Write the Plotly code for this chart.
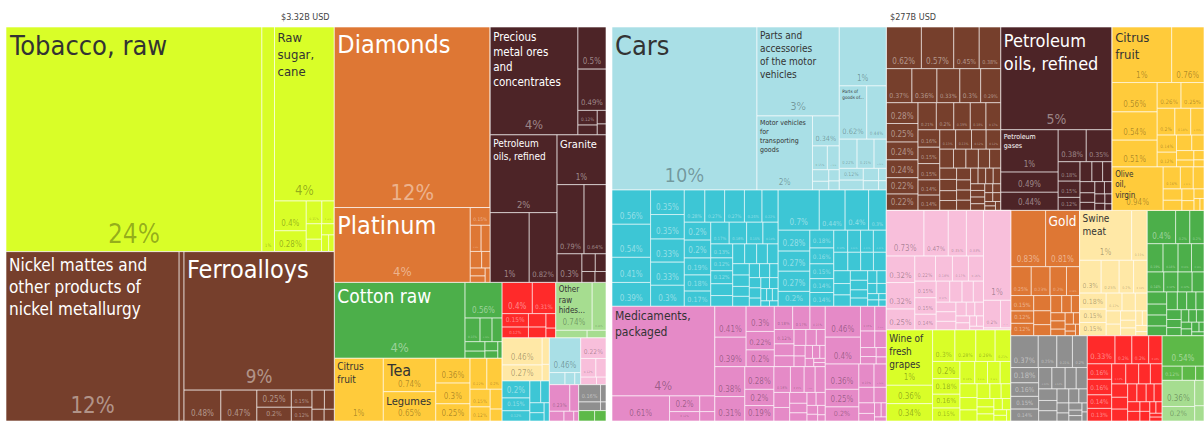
import math
import plotly.graph_objects as go

TITLE_ZW = "$3.32B USD"
TITLE_ES = "$277B USD"

# ---------------- Left treemap (export shares, %) ----------------
# entry = share (unlabelled product) | (label, share) | [entries] (one HS2 group)
ZW_FOODSTUFFS = [[("Tobacco, raw", 24.3), 1.2], ("Raw<br>sugar,<br>cane", 4.4),
                 0.4, 0.28, 0.15, 0.12, 0.1, 0.08, 0.06, 0.05, 0.04]
ZW_METALS = [[("Nickel mattes and<br>other products of<br>nickel metallurgy", 12.4), 0.35],
             [("Ferroalloys", 8.8), 0.48, 0.47, 0.25, 0.2, 0.15, 0.12, 0.1, 0.08, 0.06, 0.05]]
ZW_PRECIOUS = [("Diamonds", 11.9),
               [("Platinum", 4.3), 0.15, 0.12, 0.1, 0.08, 0.06, 0.05, 0.04, 0.03]]
ZW_MINERAL = [[("Precious<br>metal ores<br>and<br>concentrates", 4.0), 0.5, 0.49, 0.12, 0.08, 0.05, 0.04],
              [("Petroleum<br>oils, refined", 2.2), 1.15, 0.82],
              [("Granite", 1.03), 0.79, 0.64, 0.3, 0.1, 0.08, 0.06, 0.05]]
ZW_TEXTILES = [("Cotton raw", 4.2), 0.56, 0.15, 0.12, 0.1, 0.08, 0.06, 0.05, 0.04, 0.03]
ZW_VEGETABLE = [("Citrus<br>fruit", 1.3), ("Tea", 0.74), ("Legumes", 0.65), 0.36, 0.3, 0.25,
                0.22, 0.2, 0.15, 0.12, 0.1, 0.06]
ZW_MISC = [0.4, 0.31, 0.15, 0.12, 0.1, 0.08, 0.06, 0.04]
ZW_HIDES = [("Other<br>raw<br>hides...", 0.74), 0.28, 0.1, 0.06]
ZW_ANIMAL = [0.46, 0.27, 0.08, 0.05]
ZW_MACHINES = [0.2, 0.15, 0.12, 0.1, 0.08, 0.06, 0.05, 0.04]
ZW_TRANSPORT = [0.46, 0.08, 0.05, 0.03]
ZW_PLASTICS = [0.22, 0.12, 0.08, 0.05, 0.03]
ZW_CHEMICALS = [0.23, 0.1, 0.06, 0.04, 0.02]
ZW_INSTRUMENTS = [0.16, 0.08, 0.04, 0.02]
ZW_PAPER = [0.07, 0.05]

# ---------------- Right treemap (export shares, %) ----------------
ES_TRANSPORT = [[("Cars", 10.0), ("Parts and<br>accessories<br>of the motor<br>vehicles", 3.1),
                 ("Motor vehicles<br>for<br>transporting<br>goods", 1.74), 0.34, 0.15, 0.12, 0.08, 0.06, 0.05, 0.04],
                [1.17, ("Parts of<br>goods of...", 0.62), 0.44, 0.22, 0.21, 0.15, 0.12, 0.1, 0.08, 0.06, 0.04, 0.03]]
ES_MACHINES = [[0.56, 0.54, 0.41, 0.39, 0.35, 0.35, 0.33, 0.33, 0.3, 0.28, 0.27, 0.27, 0.24, 0.22, 0.2,
                0.2, 0.19, 0.18, 0.17, 0.17, 0.16, 0.15, 0.14, 0.13, 0.12, 0.12, 0.11, 0.1, 0.1, 0.1,
                0.09, 0.09, 0.08, 0.08, 0.07, 0.07, 0.06, 0.06, 0.05, 0.05, 0.05, 0.04, 0.04, 0.04,
                0.03, 0.03, 0.03, 0.02, 0.02],
               [0.7, 0.44, 0.4, 0.3, 0.28, 0.27, 0.27, 0.2, 0.18, 0.16, 0.15, 0.14, 0.14, 0.13, 0.12,
                0.12, 0.12, 0.11, 0.1, 0.1, 0.1, 0.09, 0.08, 0.08, 0.07, 0.07, 0.06, 0.06, 0.05, 0.05,
                0.04, 0.04, 0.03, 0.03, 0.02, 0.02]]
ES_CHEMICALS = [[("Medicaments,<br>packaged", 3.9), 0.61, 0.2, 0.12, 0.1, 0.06],
                [0.41, 0.39, 0.3, 0.22, 0.2, 0.18, 0.17, 0.15, 0.12, 0.1, 0.09, 0.08, 0.07, 0.06,
                 0.05, 0.05, 0.04, 0.04, 0.03, 0.03, 0.02, 0.02],
                [0.38, 0.31, 0.28, 0.2, 0.19, 0.18, 0.15, 0.12, 0.11, 0.1, 0.09, 0.08, 0.07, 0.06,
                 0.05, 0.05, 0.04, 0.03, 0.03, 0.02],
                [0.46, 0.4, 0.15, 0.12, 0.1, 0.08, 0.06, 0.05, 0.04, 0.03],
                [0.36, 0.25, 0.2, 0.15, 0.12, 0.1, 0.08, 0.07, 0.05, 0.04, 0.03, 0.02]]
ES_METALS = [0.62, 0.57, 0.45, 0.38, 0.37, 0.36, 0.33, 0.3, 0.29, 0.28, 0.25, 0.24, 0.24, 0.22,
             0.22, 0.21, 0.2, 0.19, 0.18, 0.17, 0.16, 0.15, 0.15, 0.14, 0.14, 0.13, 0.13, 0.12,
             0.12, 0.11, 0.1, 0.1, 0.09, 0.09, 0.08, 0.08, 0.07, 0.07, 0.07, 0.06, 0.06, 0.06,
             0.05, 0.05, 0.05, 0.05, 0.04, 0.04, 0.04, 0.04, 0.03, 0.03, 0.03, 0.03, 0.02, 0.02, 0.02]
ES_MINERAL = [("Petroleum<br>oils, refined", 4.84), ("Petroleum<br>gases", 1.03), 0.49, 0.44, 0.38,
              0.35, 0.18, 0.15, 0.12, 0.1, 0.09, 0.08, 0.07, 0.06, 0.05, 0.05, 0.04, 0.04, 0.03, 0.03, 0.02]
ES_VEGETABLE = [[("Citrus<br>fruit", 1.4), 0.76, 0.56, 0.54, 0.51, 0.26, 0.25, 0.2, 0.18, 0.15,
                 0.14, 0.12, 0.1, 0.08, 0.07, 0.05, 0.04, 0.03],
                [("Olive<br>oil,<br>virgin", 0.94), 0.16, 0.12, 0.1, 0.09, 0.08, 0.06, 0.05, 0.04, 0.03, 0.02]]
ES_PLASTICS = [[0.73, 0.47, 0.35, 0.33, 0.32, 0.32, 0.25, 0.22, 0.18, 0.17, 0.16, 0.15, 0.15, 0.14,
                0.12, 0.11, 0.1, 0.09, 0.08, 0.08, 0.07, 0.06, 0.05, 0.05, 0.04, 0.04, 0.03, 0.03, 0.02],
               [1.04, 0.2, 0.12, 0.02]]
ES_FOODSTUFFS = [("Wine of<br>fresh<br>grapes", 1.09), 0.36, 0.34, 0.3, 0.28, 0.26, 0.21, 0.2, 0.18,
                 0.16, 0.15, 0.14, 0.12, 0.12, 0.1, 0.1, 0.09, 0.08, 0.08, 0.07, 0.06, 0.06, 0.05,
                 0.05, 0.04, 0.04, 0.03, 0.03, 0.02]
ES_PRECIOUS = [0.83, ("Gold", 0.81), 0.25, 0.23, 0.2, 0.16, 0.15, 0.12, 0.12, 0.11, 0.1, 0.08,
               0.08, 0.07, 0.06, 0.05, 0.05, 0.04, 0.04, 0.03, 0.03, 0.02, 0.02]
ES_ANIMAL = [("Swine<br>meat", 1.1), 0.33, 0.3, 0.25, 0.2, 0.19, 0.18, 0.15, 0.15, 0.12, 0.1, 0.09,
             0.08, 0.07, 0.06, 0.05, 0.05, 0.04, 0.03, 0.03, 0.02]
ES_TEXTILES = [0.4, 0.2, 0.2, 0.19, 0.18, 0.16, 0.15, 0.14, 0.12, 0.12, 0.1, 0.1, 0.09, 0.09, 0.08,
               0.08, 0.07, 0.07, 0.06, 0.06, 0.05, 0.05, 0.04, 0.04, 0.04, 0.03, 0.03, 0.03, 0.02, 0.02]
ES_INSTRUMENTS = [0.37, 0.25, 0.21, 0.15, 0.2, 0.18, 0.16, 0.14, 0.12, 0.12, 0.1, 0.1, 0.09, 0.08,
                  0.08, 0.07, 0.06, 0.05, 0.05, 0.04, 0.04, 0.03, 0.03, 0.02, 0.02]
ES_MISC = [0.33, 0.2, 0.2, 0.16, 0.16, 0.16, 0.14, 0.13, 0.12, 0.11, 0.1, 0.1, 0.09, 0.08, 0.08,
           0.07, 0.07, 0.06, 0.06, 0.05, 0.05, 0.04, 0.04, 0.03, 0.03, 0.02, 0.02]
ES_PAPER = [0.54, 0.12, 0.08, 0.05]
ES_HIDES = [0.36, 0.2, 0.1, 0.06]

ZW_SECTIONS = [("Foodstuffs", ZW_FOODSTUFFS), ("Metals", ZW_METALS), ("Precious Metals", ZW_PRECIOUS),
               ("Mineral Products", ZW_MINERAL), ("Textiles", ZW_TEXTILES),
               ("Vegetable Products", ZW_VEGETABLE), ("Miscellaneous", ZW_MISC),
               ("Animal Hides", ZW_HIDES), ("Animal Products", ZW_ANIMAL), ("Machines", ZW_MACHINES),
               ("Transportation", ZW_TRANSPORT), ("Plastics and Rubbers", ZW_PLASTICS),
               ("Chemical Products", ZW_CHEMICALS), ("Instruments", ZW_INSTRUMENTS),
               ("Paper Goods", ZW_PAPER)]
ES_SECTIONS = [("Transportation", ES_TRANSPORT), ("Machines", ES_MACHINES),
               ("Chemical Products", ES_CHEMICALS), ("Metals", ES_METALS),
               ("Mineral Products", ES_MINERAL), ("Vegetable Products", ES_VEGETABLE),
               ("Plastics and Rubbers", ES_PLASTICS), ("Foodstuffs", ES_FOODSTUFFS),
               ("Precious Metals", ES_PRECIOUS), ("Animal Products", ES_ANIMAL),
               ("Textiles", ES_TEXTILES), ("Instruments", ES_INSTRUMENTS),
               ("Miscellaneous", ES_MISC), ("Paper Goods", ES_PAPER), ("Animal Hides", ES_HIDES)]

# ---------------- styles ----------------
SECTION_COLOR = {
    "Foodstuffs": "#D9FE28", "Metals": "#763F2C", "Precious Metals": "#DE7734",
    "Mineral Products": "#4D2427", "Textiles": "#4CAF4A", "Vegetable Products": "#FFCB3B",
    "Miscellaneous": "#FF2A2A", "Animal Hides": "#A6DD90", "Animal Products": "#FFE8A6",
    "Machines": "#3DC6D5", "Transportation": "#A9DFE6", "Plastics and Rubbers": "#F8BFDB",
    "Chemical Products": "#E58AC7", "Instruments": "#8F8F8F", "Paper Goods": "#5DB948",
}
DARK_TEXT = {"Foodstuffs", "Vegetable Products", "Animal Hides", "Animal Products",
             "Transportation", "Plastics and Rubbers", "Chemical Products"}
LABEL_SIZE = {
    "Tobacco, raw": 27, "Raw<br>sugar,<br>cane": 13,
    "Nickel mattes and<br>other products of<br>nickel metallurgy": 17, "Ferroalloys": 25,
    "Diamonds": 25, "Platinum": 25, "Precious<br>metal ores<br>and<br>concentrates": 11.5,
    "Petroleum<br>oils, refined": 10, "Granite": 11, "Cotton raw": 19, "Citrus<br>fruit": 10,
    "Tea": 16, "Legumes": 11, "Other<br>raw<br>hides...": 8,
}
LABEL_SIZE_ES = {
    "Cars": 27, "Parts and<br>accessories<br>of the motor<br>vehicles": 10,
    "Motor vehicles<br>for<br>transporting<br>goods": 7, "Parts of<br>goods of...": 7,
    "Medicaments,<br>packaged": 12, "Petroleum<br>oils, refined": 18, "Petroleum<br>gases": 7,
    "Citrus<br>fruit": 13, "Olive<br>oil,<br>virgin": 8, "Gold": 15, "Swine<br>meat": 10,
    "Wine of<br>fresh<br>grapes": 10,
}
FONT = "Liberation Sans Narrow, DejaVu Sans Condensed, Roboto, sans-serif"


def fmt(v):
    return f"{v:.0f}%" if v >= 1 else f"{v:.2g}%"


def build(prefix, sections, label_sizes):
    d = {k: [] for k in ["ids", "names", "parents", "values", "colors", "lab", "pct", "lsize",
                         "psize", "lcol", "pcol", "linec", "linew"]}

    def add(i, p, v, sec, lab="", leaf=False):
        dark = sec in DARK_TEXT if sec else True
        d["ids"].append(i)
        d["names"].append(lab.replace("<br>", " ") if lab else (sec or prefix))
        d["parents"].append(p)
        d["values"].append(v)
        d["colors"].append(SECTION_COLOR.get(sec, "#ffffff"))
        d["lab"].append(lab)
        d["pct"].append(fmt(v) if leaf and v >= 0.12 else "")
        d["lsize"].append(label_sizes.get(lab, 10))
        d["psize"].append(max(8.0, min(26.0, 6.3 * math.sqrt(v))) if leaf else 8)
        d["lcol"].append("#333333" if dark else "#ffffff")
        d["pcol"].append("rgba(0,0,0,0.33)" if dark else "rgba(255,255,255,0.45)")
        d["linec"].append("rgba(255,255,255,0.6)" if leaf else "#ffffff")
        d["linew"].append(1 if sec else 0)

    def leaf(i, p, it, sec):
        lab, v = it if isinstance(it, tuple) else ("", it)
        add(i, p, v, sec, lab, True)

    add(prefix, "", 0, None)
    for si, (sname, entries) in enumerate(sections):
        sid = f"{prefix}/{si}"
        add(sid, prefix, 0, sname)
        for gi, e in enumerate(entries):
            if isinstance(e, list):
                gid = f"{sid}/{gi}"
                add(gid, sid, 0, sname)
                for pi, it in enumerate(e):
                    leaf(f"{gid}/{pi}", gid, it, sname)
            else:
                leaf(f"{sid}/{gi}", sid, e, sname)
    return d


W, H = 1204, 421
TOP = 27
common = dict(branchvalues="remainder", sort=True, pathbar=dict(visible=False),
              tiling=dict(pad=0, squarifyratio=1.618), textinfo="text", hoverinfo="skip")


def traces(d, x0, x1):
    dom = dict(x=[x0 / W, x1 / W], y=[0, (H - TOP) / H])
    base = go.Treemap(ids=d["ids"], labels=d["names"], parents=d["parents"], values=d["values"],
                      text=d["pct"], textposition="bottom center",
                      textfont=dict(size=d["psize"], color=d["pcol"], family=FONT),
                      marker=dict(colors=d["colors"], line=dict(color=d["linec"], width=d["linew"]),
                                  pad=dict(t=0, l=0, r=0, b=0)),
                      domain=dom, **common)
    over = go.Treemap(ids=d["ids"], labels=d["names"], parents=d["parents"], values=d["values"],
                      text=d["lab"], textposition="top left",
                      textfont=dict(size=d["lsize"], color=d["lcol"], family=FONT),
                      marker=dict(colors=["rgba(0,0,0,0)"] * len(d["ids"]), line=dict(width=0),
                                  pad=dict(t=0, l=0, r=0, b=0)),
                      domain=dom, **common)
    return [base, over]


zw = build("zw", ZW_SECTIONS, LABEL_SIZE)
es = build("es", ES_SECTIONS, LABEL_SIZE_ES)

fig = go.Figure(traces(zw, 6, 606) + traces(es, 612, 1204))
fig.update_layout(
    width=W, height=H, margin=dict(l=0, r=0, t=0, b=0),
    paper_bgcolor="#ffffff", showlegend=False,
    annotations=[
        dict(text=TITLE_ZW, x=305 / W, y=1 - 17 / H, xref="paper", yref="paper", showarrow=False,
             font=dict(size=9, color="#444444", family=FONT), xanchor="center", yanchor="middle"),
        dict(text=TITLE_ES, x=913 / W, y=1 - 17 / H, xref="paper", yref="paper", showarrow=False,
             font=dict(size=9, color="#444444", family=FONT), xanchor="center", yanchor="middle"),
    ],
)
fig.write_html("out.html", config={"displayModeBar": False},
               post_script="document.body.style.margin='0px';")
